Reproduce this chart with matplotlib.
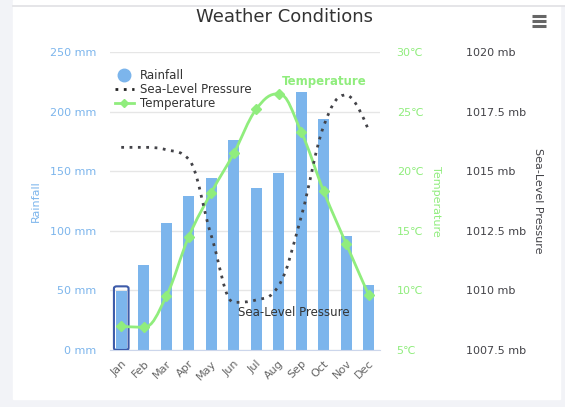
import matplotlib.pyplot as plt
import numpy as np
from matplotlib.lines import Line2D
from matplotlib.patches import FancyBboxPatch, PathPatch, Rectangle
from matplotlib.path import Path

months = ["Jan", "Feb", "Mar", "Apr", "May", "Jun",
          "Jul", "Aug", "Sep", "Oct", "Nov", "Dec"]
rainfall = [49.9, 71.5, 106.4, 129.2, 144.0, 176.0,
            135.6, 148.5, 216.4, 194.1, 95.6, 54.4]
temperature = [7.0, 6.9, 9.5, 14.5, 18.2, 21.5,
               25.2, 26.5, 23.3, 18.3, 13.9, 9.6]
pressure = [1016, 1016, 1015.9, 1015.5, 1012.3, 1009.5,
            1009.6, 1010.2, 1013.1, 1016.9, 1018.2, 1016.7]

rain_ticks = [0, 50, 100, 150, 200, 250]
temp_ticks = [5, 10, 15, 20, 25, 30]
pres_ticks = [1007.5, 1010, 1012.5, 1015, 1017.5, 1020]

BLUE = "#7cb5ec"
GREEN = "#90ed7d"
DARK = "#434348"

W, H = 565, 407


def spline_path(xs, ys, smoothing=1.5):
    # Highcharts-style spline: cubic bezier with tangent-corrected controls
    n = len(xs)
    left = [(xs[i], ys[i]) for i in range(n)]
    right = [(xs[i], ys[i]) for i in range(n)]
    d = smoothing + 1
    for i in range(1, n - 1):
        px, py = xs[i], ys[i]
        lx, ly = xs[i - 1], ys[i - 1]
        nx, ny = xs[i + 1], ys[i + 1]
        lcx = (smoothing * px + lx) / d
        lcy = (smoothing * py + ly) / d
        rcx = (smoothing * px + nx) / d
        rcy = (smoothing * py + ny) / d
        corr = (rcy - lcy) * (rcx - px) / (rcx - lcx) + py - rcy
        lcy += corr
        rcy += corr
        if lcy > ly and lcy > py:
            lcy = max(ly, py)
            rcy = 2 * py - lcy
        elif lcy < ly and lcy < py:
            lcy = min(ly, py)
            rcy = 2 * py - lcy
        if rcy > ny and rcy > py:
            rcy = max(ny, py)
            lcy = 2 * py - rcy
        elif rcy < ny and rcy < py:
            rcy = min(ny, py)
            lcy = 2 * py - rcy
        left[i] = (lcx, lcy)
        right[i] = (rcx, rcy)
    verts = [(xs[0], ys[0])]
    codes = [Path.MOVETO]
    for i in range(1, n):
        verts += [right[i - 1], left[i], (xs[i], ys[i])]
        codes += [Path.CURVE4] * 3
    return Path(verts, codes)


fig = plt.figure(figsize=(W / 100, H / 100), dpi=100, facecolor="#f2f3f7")

# white card
fig.patches.append(Rectangle((13 / W, 1 - 399 / H), (560 - 13) / W, (399 - 6) / H,
                             transform=fig.transFigure, color="white", zorder=-10))
fig.patches.append(Rectangle((13 / W, 1 - 5 / H), (W - 13) / W, 5 / H,
                             transform=fig.transFigure, color="white", zorder=-10))
fig.lines.append(Line2D([13 / W, 1], [1 - 5.5 / H, 1 - 5.5 / H], transform=fig.transFigure,
                        color="#e0e0e4", lw=1.2, zorder=-9))

# menu icon
for yy in (16, 21, 26):
    fig.lines.append(Line2D([532 / W, 546 / W], [1 - yy / H, 1 - yy / H],
                            transform=fig.transFigure, color="#666666", lw=2.2,
                            solid_capstyle="butt"))

left, right, top, bottom = 110, 380, 52, 350
ax = fig.add_axes([left / W, 1 - bottom / H, (right - left) / W, (bottom - top) / H])
ax.set_facecolor("none")

x = np.arange(len(months))
bars = ax.bar(x, rainfall, width=0.47, color=BLUE, zorder=2)
ax.set_xlim(-0.5, len(months) - 0.5)
ax.set_ylim(0, 250)
ax.set_yticks(rain_ticks)
ax.set_yticklabels([f"{t} mm" for t in rain_ticks])
ax.set_xticks(x)
ax.set_xticklabels(months, rotation=45, ha="right", rotation_mode="anchor")
ax.tick_params(axis="x", length=0, pad=6, labelsize=8, labelcolor="#666666")
ax.tick_params(axis="y", length=0, pad=10, labelsize=8, labelcolor=BLUE)
ax.grid(axis="y", color="#e6e6e6", lw=1, zorder=0)
for s in ax.spines.values():
    s.set_visible(False)
ax.spines["bottom"].set_visible(True)
ax.spines["bottom"].set_color("#ccd6eb")

# hover outline around January column
b0 = bars[0]
ax.add_patch(FancyBboxPatch((b0.get_x() - 0.09, 0), b0.get_width() + 0.18, rainfall[0] + 3.5,
                            boxstyle="round,pad=0,rounding_size=0.12", fill=False,
                            ec="#3d5ba9", lw=1.5, zorder=3, mutation_aspect=14))

ax2 = ax.twinx()
ax2.set_ylim(5, 30)
ax2.set_yticks(temp_ticks)
ax2.set_yticklabels([f"{t}℃" for t in temp_ticks])
ax2.tick_params(axis="y", length=0, pad=12, labelsize=8, labelcolor=GREEN)
for s in ax2.spines.values():
    s.set_visible(False)
ax2.add_patch(PathPatch(spline_path(x, temperature), fill=False, ec=GREEN, lw=2, zorder=3))
ax2.plot(x, temperature, ls="none", marker="D", ms=5, color=GREEN, zorder=4)

ax3 = ax.twinx()
ax3.set_ylim(1007.5, 1020)
ax3.set_yticks(pres_ticks)
ax3.set_yticklabels([f"{t:g} mb" for t in pres_ticks])
ax3.tick_params(axis="y", length=0, pad=62, labelsize=8, labelcolor=DARK)
for s in ax3.spines.values():
    s.set_visible(False)
ax3.add_patch(PathPatch(spline_path(x, pressure), fill=False, ec=DARK, lw=2,
                        ls=(0, (1, 2)), zorder=3))

# axis titles
fig.text(36 / W, 1 - 201 / H, "Rainfall", rotation=90, color=BLUE, fontsize=8,
         ha="center", va="center")
fig.text(436 / W, 1 - 201 / H, "Temperature", rotation=270, color=GREEN, fontsize=8,
         ha="center", va="center")
fig.text(538 / W, 1 - 201 / H, "Sea-Level Pressure", rotation=270, color=DARK, fontsize=8,
         ha="center", va="center")

fig.text(285 / W, 1 - 17 / H, "Weather Conditions", color="#333333", fontsize=13,
         ha="center", va="center")

# series labels
fig.text(324 / W, 1 - 82 / H, "Temperature", color=GREEN, fontsize=8.5, weight="bold",
         ha="center", va="center")
fig.text(294 / W, 1 - 313 / H, "Sea-Level Pressure", color="#333333", fontsize=8.5,
         ha="center", va="center")

handles = [
    Line2D([], [], ls="none", marker="o", ms=9, color=BLUE),
    Line2D([], [], ls=(0, (1, 2)), lw=2, color="#222222"),
    Line2D([], [], lw=2, color=GREEN, marker="D", ms=4),
]
leg = ax3.legend(handles, ["Rainfall", "Sea-Level Pressure", "Temperature"],
                 loc="upper left", bbox_to_anchor=(0.0, 0.96), frameon=False,
                 fontsize=8.5, handlelength=1.6, handletextpad=0.5,
                 labelspacing=0.1, borderaxespad=0)
for t in leg.get_texts():
    t.set_color("#333333")

plt.savefig("out.png", dpi=100, facecolor=fig.get_facecolor())
